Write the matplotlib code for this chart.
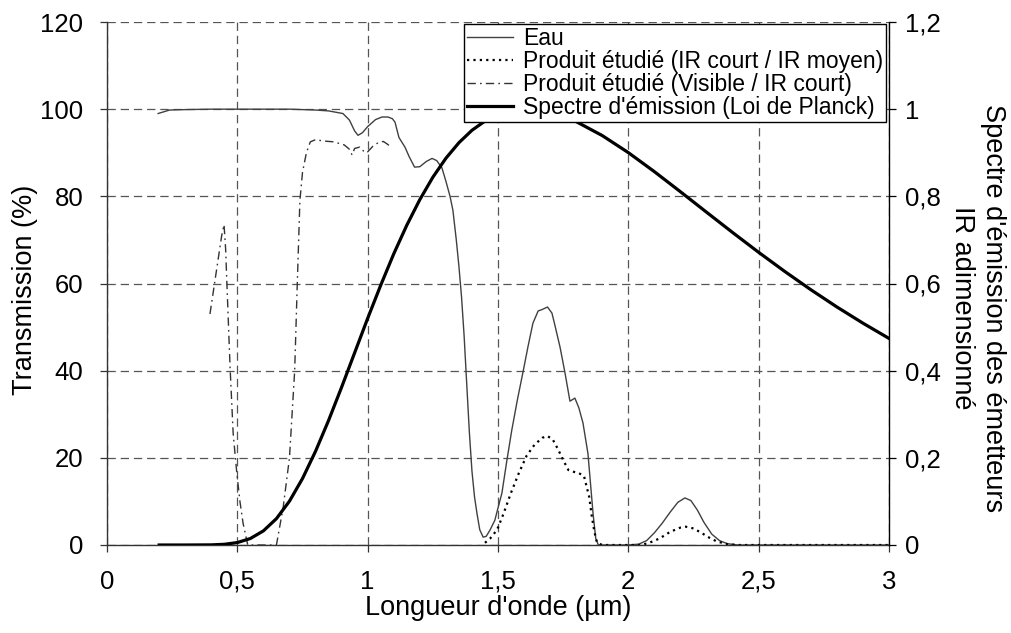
import matplotlib
matplotlib.use("Agg")
import matplotlib.pyplot as plt

plt.rcParams['font.family'] = ['Liberation Sans', 'DejaVu Sans']
plt.rcParams['lines.scale_dashes'] = False

# ---- data ----
eau_x = [0.196, 0.24, 0.30, 0.40, 0.50, 0.60, 0.70, 0.80, 0.85, 0.905, 0.93, 0.95, 0.963, 0.98,
         1.00, 1.03, 1.055, 1.078, 1.095, 1.105, 1.12, 1.143, 1.16, 1.18, 1.20, 1.225, 1.247,
         1.265, 1.285, 1.30, 1.316, 1.327, 1.34, 1.35, 1.36, 1.37, 1.38, 1.39, 1.40, 1.41,
         1.42, 1.43, 1.443, 1.455, 1.47, 1.488, 1.50, 1.515, 1.533, 1.553, 1.575, 1.597,
         1.615, 1.634, 1.654, 1.668, 1.69, 1.707, 1.72, 1.738, 1.757, 1.776, 1.795, 1.81,
         1.826, 1.845, 1.855, 1.865, 1.875, 1.885, 1.95, 2.00, 2.04, 2.07, 2.10, 2.13, 2.16,
         2.19, 2.217, 2.24, 2.265, 2.29, 2.32, 2.35, 2.38, 2.42, 2.50, 3.00]
eau_y = [99.0, 99.8, 99.9, 100, 100, 100, 100, 99.8, 99.6, 99.0, 97.5, 95.0, 94.0, 94.6,
         96.0, 97.6, 98.2, 98.2, 97.8, 97.0, 93.5, 91.3, 89.0, 86.7, 86.8, 88.0, 88.7,
         88.2, 86.5, 83.5, 80.0, 76.8, 70.0, 64.0, 57.0, 48.0, 37.0, 26.0, 17.0, 11.0,
         7.0, 3.5, 1.8, 2.0, 3.5, 5.7, 8.5, 11.9, 19.0, 26.4, 33.5, 40.0,
         45.5, 50.9, 53.7, 54.0, 54.6, 53.2, 50.0, 45.4, 39.5, 33.0, 33.7, 31.5,
         28.0, 21.0, 14.0, 7.0, 1.5, 0.0, 0.0, 0.0, 0.2, 1.0, 2.8, 5.0, 7.5,
         9.8, 10.8, 10.2, 8.0, 5.2, 2.5, 1.0, 0.3, 0.0, 0.0, 0.0]

court_moyen_x = [1.45, 1.47, 1.49, 1.50, 1.52, 1.55, 1.58, 1.61, 1.64, 1.67, 1.69, 1.71, 1.73,
                 1.75, 1.77, 1.79, 1.81, 1.83, 1.85, 1.86, 1.87, 1.88, 1.90, 2.05, 2.08, 2.12,
                 2.16, 2.20, 2.22, 2.25, 2.28, 2.31, 2.34, 2.38, 2.42, 3.00]
court_moyen_y = [0.5, 1.5, 3.0, 4.0, 7.0, 12.0, 16.5, 20.5, 23.0, 24.6, 25.0, 24.2, 22.0,
                 19.5, 17.2, 16.8, 16.5, 15.8, 11.0, 6.5, 3.0, 0.5, 0.0, 0.0, 0.5, 1.5,
                 3.0, 4.0, 4.2, 3.8, 2.8, 1.7, 0.8, 0.2, 0.0, 0.0]

visible_x = [0.395, 0.42, 0.44, 0.449, 0.455, 0.46, 0.472, 0.484, 0.498, 0.51, 0.522, 0.54,
             0.65, 0.676, 0.70, 0.72, 0.73, 0.74, 0.75, 0.765, 0.78, 0.80, 0.83, 0.87, 0.91,
             0.93, 0.94, 0.95, 0.97, 0.99, 1.00, 1.02, 1.04, 1.06, 1.075, 1.09]
visible_y = [53.0, 63.0, 71.0, 73.5, 68.0, 60.0, 41.0, 25.6, 16.5, 10.0, 5.0, 0.0,
             0.0, 8.7, 20.0, 40.0, 60.0, 79.0, 85.5, 90.0, 92.5, 93.0, 92.7, 92.5, 91.8,
             90.8, 89.5, 91.0, 91.3, 90.0, 90.2, 91.5, 92.3, 92.6, 92.0, 91.3]

planck_x = [0.20, 0.30, 0.40, 0.45, 0.50, 0.55, 0.60, 0.65, 0.70, 0.75, 0.80, 0.85, 0.90,
            0.95, 1.00, 1.05, 1.10, 1.15, 1.20, 1.25, 1.30, 1.35, 1.40, 1.45, 1.50, 1.60,
            1.70, 1.80, 1.90, 2.00, 2.10, 2.20, 2.30, 2.40, 2.50, 2.60, 2.70, 2.80, 2.90, 3.00]
planck_y = [0.0, 0.0, 0.0003, 0.0016, 0.0056, 0.0149, 0.0324, 0.0605, 0.1006, 0.1525,
            0.215, 0.2857, 0.362, 0.441, 0.520, 0.596, 0.668, 0.7336, 0.7924, 0.8438,
            0.8873, 0.923, 0.9515, 0.9727, 0.9875, 0.9997, 0.9928, 0.9714, 0.9394, 0.9003,
            0.8566, 0.8105, 0.7636, 0.717, 0.6715, 0.6277, 0.5858, 0.5462, 0.509, 0.474]

x_ticks = [0, 0.5, 1, 1.5, 2, 2.5, 3]
x_tick_labels = ["0", "0,5", "1", "1,5", "2", "2,5", "3"]
y_ticks = [0, 20, 40, 60, 80, 100, 120]
y2_ticks = [0, 0.2, 0.4, 0.6, 0.8, 1.0, 1.2]
y2_tick_labels = ["0", "0,2", "0,4", "0,6", "0,8", "1", "1,2"]

labels = ["Eau",
          "Produit étudié (IR court / IR moyen)",
          "Produit étudié (Visible / IR court)",
          "Spectre d'émission (Loi de Planck)"]

# ---- figure ----
W, H = 1012, 633
fig = plt.figure(figsize=(W / 100, H / 100), dpi=100)
L, R, T, B = 107, 889, 22, 545
ax = fig.add_axes([L / W, 1 - B / H, (R - L) / W, (B - T) / H])
ax2 = ax.twinx()

FS_TICK = 18.5
FS_TITLE = 19.5
FS_LEG = 16.5
gridc = '#555555'

l1, = ax.plot(eau_x, eau_y, color='#404040', lw=1.0, label=labels[0])
l2, = ax.plot(court_moyen_x, court_moyen_y, color='black', lw=1.6,
              linestyle=(0, (1.6, 3.0)), label=labels[1])
l3, = ax.plot(visible_x, visible_y, color='#333333', lw=1.0,
              linestyle=(0, (6, 3, 1.2, 3)), label=labels[2])
l4, = ax2.plot(planck_x, planck_y, color='black', lw=2.3, label=labels[3])

ax.set_xlim(0, 3)
ax.set_ylim(0, 120)
ax2.set_ylim(0, 1.2)

ax.set_xticks(x_ticks)
ax.set_xticklabels(x_tick_labels)
ax.set_yticks(y_ticks)
ax2.set_yticks(y2_ticks)
ax2.set_yticklabels(y2_tick_labels)

ax.grid(True, color=gridc, lw=0.9, linestyle=(0, (6, 3.5)))
ax.set_axisbelow(True)

for a in (ax, ax2):
    a.spines['top'].set_visible(False)
ax.spines['right'].set_visible(False)
ax2.spines['left'].set_visible(False)
ax2.spines['bottom'].set_visible(False)
ax.spines['left'].set_color('#333333')
ax.spines['bottom'].set_color('#333333')
ax2.spines['right'].set_color('black')
for s in ('left', 'bottom'):
    ax.spines[s].set_linewidth(1.0)
ax2.spines['right'].set_linewidth(1.0)

ax.tick_params(axis='x', direction='out', length=5, width=0.9, color='#333333',
               labelsize=FS_TICK, pad=13)
ax.tick_params(axis='y', direction='out', length=5, width=0.9, color='#333333',
               labelsize=FS_TICK, pad=12)
ax2.tick_params(axis='y', direction='out', length=5, width=0.9, color='black',
                labelsize=FS_TICK, pad=6.5)

fig.text(25 / W, 1 - 290 / H, "Transmission (%)", rotation=90, ha='center', va='center',
         fontsize=FS_TITLE)
fig.text(498 / W, 1 - 608 / H, "Longueur d'onde (µm)", ha='center', va='center',
         fontsize=FS_TITLE)
fig.text(978 / W, 1 - 308 / H, "Spectre d'émission des émetteurs\nIR adimensionné",
         rotation=270, ha='center', va='center', fontsize=FS_TITLE, linespacing=1.25,
         multialignment='center')

leg = ax2.legend([l1, l2, l3, l4], labels, loc='upper right',
                 bbox_to_anchor=(886 / W, 1 - 24 / H), bbox_transform=fig.transFigure,
                 fontsize=FS_LEG, frameon=True, fancybox=False, framealpha=1,
                 edgecolor='black', borderaxespad=0, borderpad=0.12, labelspacing=0.0,
                 handlelength=2.0, handletextpad=0.45)
leg.get_frame().set_linewidth(1.0)

fig.savefig("out.png", dpi=100)
